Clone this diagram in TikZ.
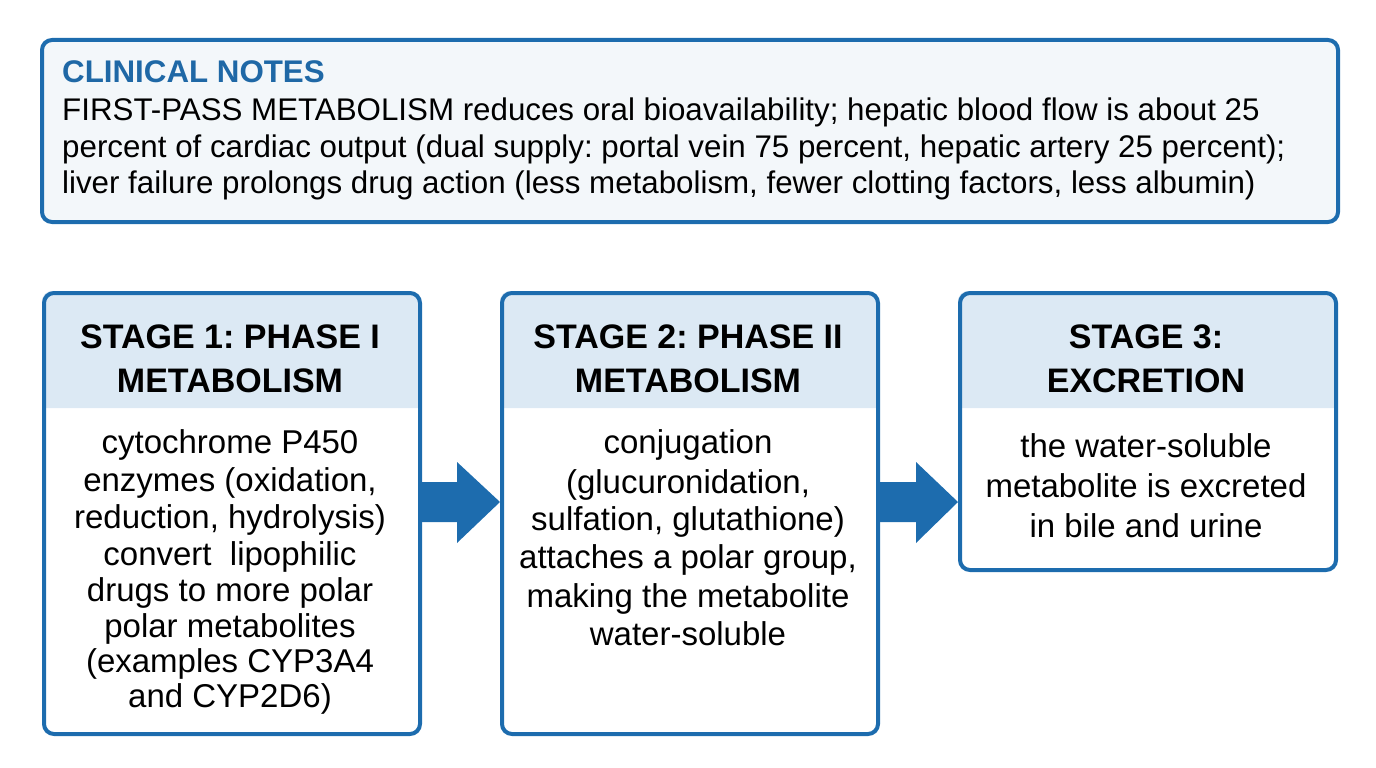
\documentclass[tikz,border=0pt]{standalone}
\usepackage{fontspec}
\setmainfont{Liberation Sans}
\usetikzlibrary{calc}
\definecolor{bordc}{HTML}{1D6CAE}
\definecolor{titlec}{HTML}{1F68A6}
\definecolor{headc}{HTML}{DCE9F4}
\definecolor{notec}{HTML}{F3F7FA}
\tikzset{
  boxline/.style={draw=bordc, line width=4pt, rounded corners=10pt},
  notetxt/.style={anchor=base west, inner sep=0pt, font=\fontsize{31.3}{36}\selectfont},
  headtxt/.style={anchor=base, inner sep=0pt, font=\fontsize{34}{40}\selectfont\bfseries},
  bodytxt/.style={anchor=base, inner sep=0pt, font=\fontsize{33}{38}\selectfont},
  flowarrow/.style={fill=bordc, draw=none}
}
\frenchspacing
\begin{document}
\begin{tikzpicture}[x=1pt,y=-1pt]
\useasboundingbox (0,0) rectangle (1376,768);
% clinical notes
\node[boxline, fill=notec, minimum width=1296pt, minimum height=182pt, anchor=north west, inner sep=0pt] (notes) at (40,38) {};
\node[notetxt, font=\fontsize{31.3}{36}\selectfont\bfseries, text=titlec] (n0) at (62,82) {CLINICAL NOTES};
\node[notetxt] (n1) at (62,120) {FIRST-PASS METABOLISM reduces oral bioavailability; hepatic blood flow is about 25};
\node[notetxt] (n2) at (62,157) {percent of cardiac output (dual supply: portal vein 75 percent, hepatic artery 25 percent);};
\node[notetxt] (n3) at (62,193) {liver failure prolongs drug action (less metabolism, fewer clotting factors, less albumin)};
% header fills
\fill[headc] (42,408) [rounded corners=10pt]-- (42,291) -- (418,291) [sharp corners]-- (418,408) -- cycle;
\fill[headc] (500,408) [rounded corners=10pt]-- (500,291) -- (876,291) [sharp corners]-- (876,408) -- cycle;
\fill[headc] (958,408) [rounded corners=10pt]-- (958,291) -- (1334,291) [sharp corners]-- (1334,408) -- cycle;
% boxes
\node[boxline, minimum width=376pt, minimum height=441pt, anchor=north west, inner sep=0pt] (s1) at (42,291) {};
\node[boxline, minimum width=376pt, minimum height=441pt, anchor=north west, inner sep=0pt] (s2) at (500,291) {};
\node[boxline, minimum width=376pt, minimum height=277pt, anchor=north west, inner sep=0pt] (s3) at (958,291) {};
% headers
\node[headtxt] (h1a) at (230,348) {STAGE 1: PHASE I};
\node[headtxt] (h1b) at (230,392) {METABOLISM};
\node[headtxt] (h2a) at (688,348) {STAGE 2: PHASE II};
\node[headtxt] (h2b) at (688,392) {METABOLISM};
\node[headtxt] (h3a) at (1146,348) {STAGE 3:};
\node[headtxt] (h3b) at (1146,392) {EXCRETION};
% body 1
\node[bodytxt] (b11) at (230,453) {cytochrome P450};
\node[bodytxt] (b12) at (230,491) {enzymes (oxidation,};
\node[bodytxt] (b13) at (230,528) {reduction, hydrolysis)};
\node[bodytxt] (b14) at (230,565) {convert\ \ lipophilic};
\node[bodytxt] (b15) at (230,601) {drugs to more polar};
\node[bodytxt] (b16) at (230,637) {polar metabolites};
\node[bodytxt] (b17) at (230,672) {(examples CYP3A4};
\node[bodytxt] (b18) at (230,707) {and CYP2D6)};
% body 2
\node[bodytxt] (b21) at (688,453) {conjugation};
\node[bodytxt] (b22) at (688,493) {(glucuronidation,};
\node[bodytxt] (b23) at (688,530) {sulfation, glutathione)};
\node[bodytxt] (b24) at (688,568) {attaches a polar group,};
\node[bodytxt] (b25) at (688,607) {making the metabolite};
\node[bodytxt] (b26) at (688,645) {water-soluble};
% body 3
\node[bodytxt] (b31) at (1146,457) {the water-soluble};
\node[bodytxt] (b32) at (1146,497) {metabolite is excreted};
\node[bodytxt] (b33) at (1146,537) {in bile and urine};
% arrows
\fill[flowarrow] (s1.east |- 0,482) -- (457,482) -- (457,462) -- (s2.west |- 0,502) -- (457,543) -- (457,522) -- (s1.east |- 0,522) -- cycle;
\fill[flowarrow] (s2.east |- 0,482) -- (916,482) -- (916,462) -- (s3.west |- 0,502) -- (916,543) -- (916,522) -- (s2.east |- 0,522) -- cycle;
\end{tikzpicture}
\end{document}
